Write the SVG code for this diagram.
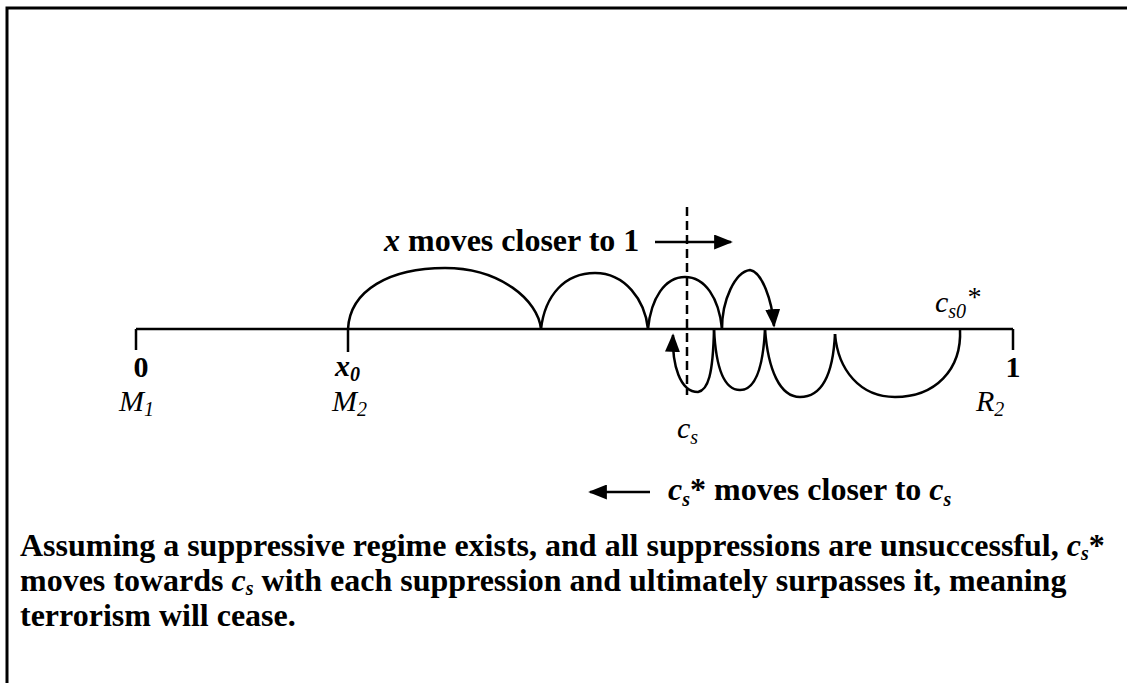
<svg xmlns="http://www.w3.org/2000/svg" width="1127" height="683" viewBox="0 0 1127 683">
<defs>
<style>
.t{font-family:"Liberation Serif","Times New Roman",serif;fill:#000}
.b{font-weight:bold}
.i{font-style:italic}
.ln{fill:none;stroke:#000;stroke-width:2.5}
.big{font-size:32px}
.lab{font-size:30px}
.sub{font-size:20px}
</style>
<marker id="ah" viewBox="0 0 10 8" refX="9" refY="4" markerWidth="7.5" markerHeight="6" orient="auto-start-reverse" markerUnits="strokeWidth">
<path d="M0,0 L10,4 L0,8 z" fill="#000"/>
</marker>
</defs>
<rect width="1127" height="683" fill="#fff"/>
<g id="frame">
<path d="M7,683 V8 H1127" fill="none" stroke="#000" stroke-width="3"/>
</g>
<g id="axis">
<path class="ln" d="M136,329 H1013 M136,329 V350 M348,329 V352 M1013,329 V350"/>
<text class="t b lab" x="141" y="377" text-anchor="middle">0</text>
<text class="t i lab" x="119" y="411">M<tspan class="sub" dy="5">1</tspan></text>
<text class="t b i lab" x="335" y="376">x<tspan class="sub" dy="5">0</tspan></text>
<text class="t i lab" x="332" y="411">M<tspan class="sub" dy="5">2</tspan></text>
<text class="t b lab" x="1013" y="377" text-anchor="middle">1</text>
<text class="t i lab" x="976" y="411">R<tspan class="sub" dy="5">2</tspan></text>
<text class="t i lab" x="677" y="438">c<tspan class="sub" dy="6">s</tspan></text>
<text class="t i lab" x="935" y="312">c<tspan class="sub" dy="6">s0</tspan><tspan dy="-12" font-size="28">*</tspan></text>
</g>
<g id="dashed">
<path d="M687,207 V395" stroke="#000" stroke-width="2.5" stroke-dasharray="9,5" fill="none"/>
</g>
<g id="connectors">
<path class="ln" d="M348,329 C350,290 390,268 445,268 C500,268 538,300 541,329"/>
<path class="ln" d="M541,329 C545,295 565,273 595,273 C625,273 645,300 648,329"/>
<path class="ln" d="M648,329 C651,298 665,277 685,277 C705,277 719,298 722,329"/>
<path class="ln" d="M722,329 C722,300 735,272 750,270 C762,272 772,300 774,326" marker-end="url(#ah)"/>
<path class="ln" d="M960,329 C962,370 935,397 895,397 C860,397 838,370 835,334"/>
<path class="ln" d="M835,334 C833,375 822,397 800,397 C780,397 768,370 765,329"/>
<path class="ln" d="M765,329 C763,370 755,390 740,390 C725,390 716,370 714,329"/>
<path class="ln" d="M714,329 C713,375 708,390 698,392 C680,392 672,365 673,335" marker-end="url(#ah)"/>
</g>
<g id="label-x">
<text class="t b big" x="384" y="251"><tspan class="i">x</tspan> moves closer to 1</text>
<path class="ln" d="M655,242 H731" marker-end="url(#ah)"/>
</g>
<g id="label-cs">
<path class="ln" d="M650,492 H590" marker-end="url(#ah)"/>
<text class="t b big" x="668" y="500"><tspan class="i">c</tspan><tspan class="i sub" dy="6">s</tspan><tspan dy="-6">* moves closer to </tspan><tspan class="i">c</tspan><tspan class="i sub" dy="6">s</tspan></text>
</g>
<g id="caption">
<text class="t b big" x="20" y="556">Assuming a suppressive regime exists, and all suppressions are unsuccessful, <tspan class="i">c</tspan><tspan class="i sub" dy="4">s</tspan><tspan dy="-4">*</tspan></text>
<text class="t b big" x="20" y="591">moves towards <tspan class="i">c</tspan><tspan class="i sub" dy="4">s</tspan><tspan dy="-4"> with each suppression and ultimately surpasses it, meaning</tspan></text>
<text class="t b big" x="20" y="626">terrorism will cease.</text>
</g>
</svg>
